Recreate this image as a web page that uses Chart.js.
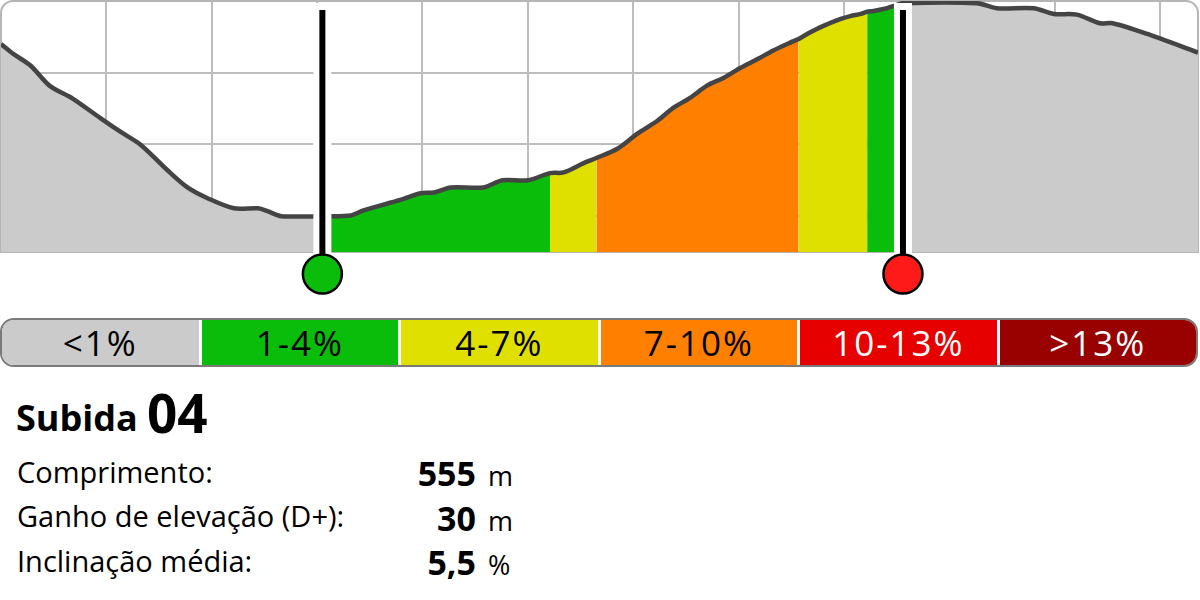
<!DOCTYPE html>
<html>
<head>
<meta charset="utf-8">
<script src="https://cdn.jsdelivr.net/npm/chart.js"></script>
<style>
  html, body { margin: 0; padding: 0; background: #fff; }
  body { width: 1200px; height: 600px; position: relative; overflow: hidden; font-family: "Open Sans", "Noto Sans", sans-serif; }
  #profile { position: absolute; left: 0; top: 0; }
  #scale { position: absolute; left: 0; top: 318px; width: 1194px; height: 45px; border: 2px solid #7a7a7a; border-radius: 14px; overflow: hidden; display: flex; background: #fff; }
  #scale div { flex: 1; text-align: center; font-size: 35px; line-height: 46px; letter-spacing: 2px; margin-left: 3px; }
  #scale div:first-child { margin-left: 0; }
  .t { position: absolute; white-space: nowrap; color: #000; }
  .lbl { left: 17px; font-size: 29px; line-height: 29px; }
  .val { right: 724px; font-size: 34px; font-weight: bold; line-height: 34px; text-align: right; }
  .unit { left: 488px; font-size: 27px; line-height: 27px; }
</style>
</head>
<body>
<canvas id="profile" width="1200" height="300"></canvas>
<div id="scale"></div>

<div class="t" style="left:16px; top:400px; font-size:36px; line-height:36px; font-weight:bold;">Subida</div>
<div class="t" style="left:147px; top:386px; font-size:53px; line-height:53px; font-weight:bold;">04</div>

<div class="t lbl" style="top:457px;">Comprimento:</div>
<div class="t val" style="top:456px;">555</div>
<div class="t unit" style="top:462px;">m</div>

<div class="t lbl" style="top:501px;">Ganho de elevação (D+):</div>
<div class="t val" style="top:501px;">30</div>
<div class="t unit" style="top:507px;">m</div>

<div class="t lbl" style="top:546px;">Inclinação média:</div>
<div class="t val" style="top:545px;">5,5</div>
<div class="t unit" style="top:551px;">%</div>

<script>
// elevation profile (distance in m, elevation in m)
const distance = [0, 12, 28, 46, 68, 95, 114, 133, 158, 177, 196, 221, 244, 253, 266, 305, 332, 344, 370, 382,
  398, 411, 427, 458, 476, 500, 521, 534, 553, 565, 585, 604, 623, 638, 654, 670, 686, 702, 718, 733,
  749, 757, 765, 780, 797, 806, 816, 822, 828, 841, 849, 856, 926, 945, 980, 999, 1021, 1043, 1055, 1088, 1136];
const elevation = [124.0, 122.6, 121.0, 118.2, 116.4, 113.6, 111.7, 109.9, 106.4, 104.0, 102.5, 101.1, 101.1, 100.7, 100.0, 100.0, 100.1, 100.8, 101.9, 102.4,
  103.2, 103.3, 104.0, 104.0, 105.0, 105.0, 106.0, 106.1, 107.4, 108.1, 109.4, 111.5, 113.3, 115.1, 116.5, 118.2, 119.3, 120.7, 121.9, 123.1,
  124.2, 124.7, 125.4, 126.5, 127.5, 127.9, 128.2, 128.5, 128.6, 129.0, 129.4, 129.7, 129.7, 129.0, 129.0, 128.2, 128.1, 126.9, 126.9, 125.4, 122.8];

// gradient classes
const gradeLabels = ['<1%', '1-4%', '4-7%', '7-10%', '10-13%', '>13%'];
const gradeColors = ['#cbcbcb', '#0abd0a', '#e0e000', '#ff8000', '#e60000', '#990000'];
const gradeText = ['#000', '#000', '#000', '#000', '#fff', '#fff'];

// coloured stretches along the profile
const zoneBreaks = [0, 305, 521, 565, 757, 822, 856, 1136];
const zoneClass = [0, 1, 2, 3, 2, 1, 0];
const climbStart = 305, climbEnd = 856;

const xTicks = [100, 200, 300, 400, 500, 600, 700, 800, 900, 1000, 1100];
const yTicks = [100, 110, 120];

// legend bar
const scaleBar = document.getElementById('scale');
gradeLabels.forEach((lab, i) => {
  const d = document.createElement('div');
  d.textContent = lab;
  d.style.background = gradeColors[i];
  d.style.color = gradeText[i];
  scaleBar.appendChild(d);
});

const points = distance.map((d, i) => ({ x: d, y: elevation[i] }));

const datasets = [{
  data: points,
  borderColor: '#444',
  borderWidth: 4.5,
  fill: false,
  tension: 0.3,
  order: 0
}];
for (let i = 0; i < zoneClass.length; i++) {
  datasets.push({
    data: points.filter(p => p.x >= zoneBreaks[i] && p.x <= zoneBreaks[i + 1]),
    borderWidth: 0,
    borderColor: 'transparent',
    backgroundColor: gradeColors[zoneClass[i]],
    fill: 'start',
    tension: 0.3,
    order: 1
  });
}

const framePlugin = {
  id: 'frame',
  beforeDatasetsDraw(chart) {
    const a = chart.chartArea, ctx = chart.ctx;
    ctx.save();
    ctx.strokeStyle = '#b5b5b5';
    ctx.lineWidth = 2;
    ctx.beginPath();
    ctx.roundRect(a.left, a.top, a.right - a.left, a.bottom - a.top, [12, 12, 0, 0]);
    ctx.stroke();
    ctx.restore();
  }
};

const polePlugin = {
  id: 'poles',
  afterDatasetsDraw(chart) {
    const a = chart.chartArea, ctx = chart.ctx, xs = chart.scales.x;
    [[climbStart, gradeColors[1]], [climbEnd, '#ff1a1a']].forEach(([d, col]) => {
      const x = xs.getPixelForValue(d);
      const cy = a.bottom + 22;
      ctx.save();
      ctx.fillStyle = '#fff';
      ctx.fillRect(x - 9, a.top + 2, 18, a.bottom - a.top + 2);
      ctx.strokeStyle = '#000';
      ctx.lineWidth = 6;
      ctx.beginPath();
      ctx.moveTo(x, a.top + 9);
      ctx.lineTo(x, cy);
      ctx.stroke();
      ctx.beginPath();
      ctx.arc(x, cy, 19.5, 0, Math.PI * 2);
      ctx.fillStyle = col;
      ctx.fill();
      ctx.lineWidth = 2.5;
      ctx.stroke();
      ctx.restore();
    });
  }
};

new Chart(document.getElementById('profile').getContext('2d'), {
  type: 'line',
  data: { datasets },
  options: {
    responsive: false,
    animation: false,
    layout: { padding: { left: 1, right: 2, top: 1, bottom: 48 } },
    elements: { point: { radius: 0 } },
    plugins: { legend: { display: false }, tooltip: { enabled: false } },
    scales: {
      x: {
        type: 'linear', min: 0, max: 1136,
        afterBuildTicks: axis => { axis.ticks = xTicks.map(v => ({ value: v })); },
        ticks: { display: false },
        grid: { color: '#bdbdbd', lineWidth: 2, drawTicks: false },
        border: { display: false }
      },
      y: {
        type: 'linear', min: 95, max: 130,
        afterBuildTicks: axis => { axis.ticks = yTicks.map(v => ({ value: v })); },
        ticks: { display: false },
        grid: { color: '#bdbdbd', lineWidth: 2, drawTicks: false },
        border: { display: false }
      }
    }
  },
  plugins: [framePlugin, polePlugin]
});
</script>
</body>
</html>
